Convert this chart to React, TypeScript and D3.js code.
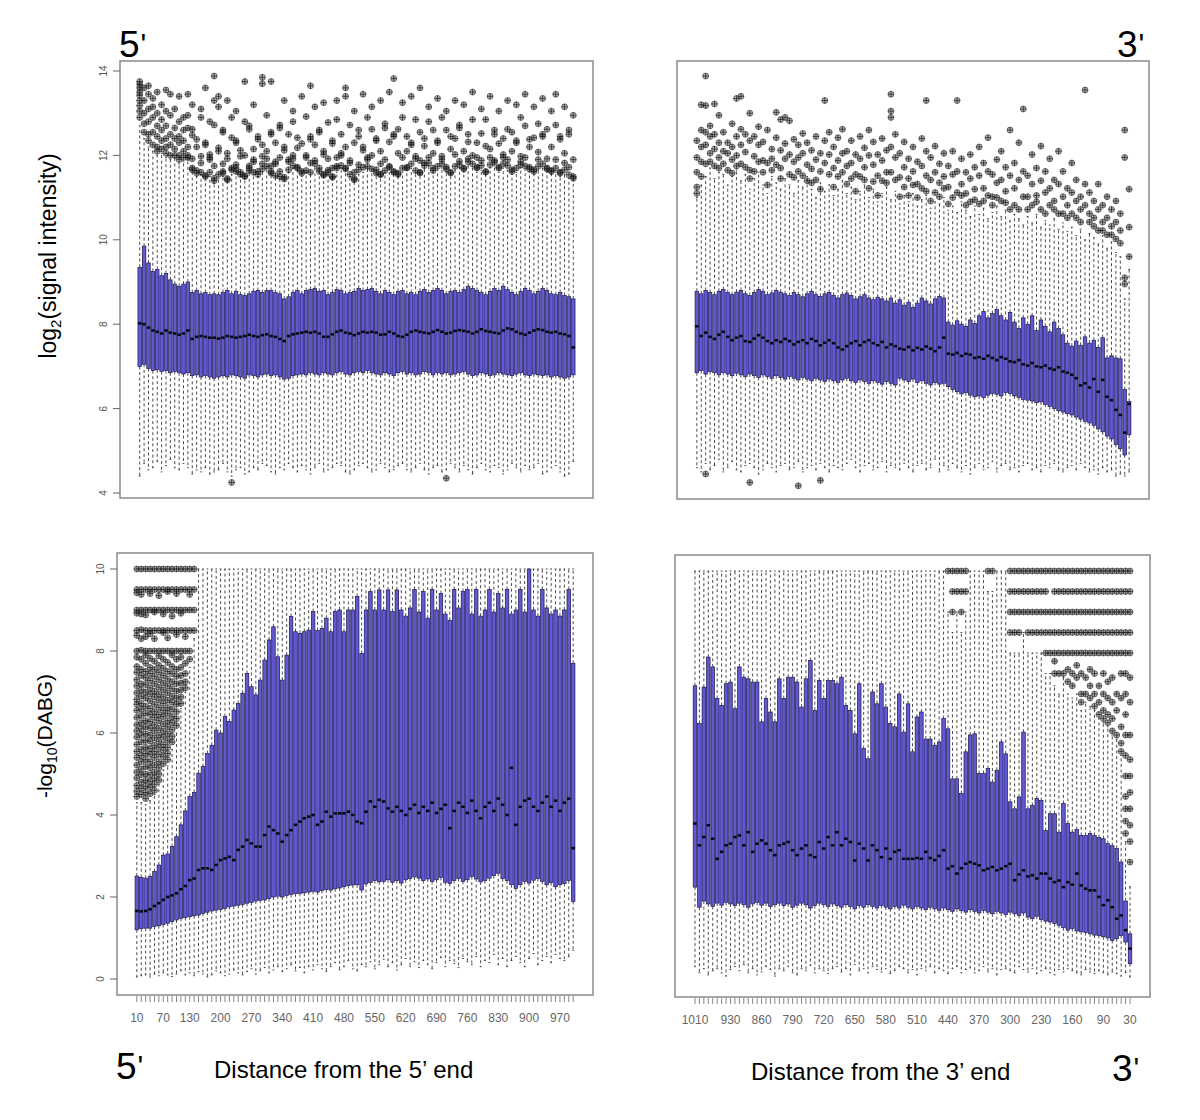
import React from "react";
import * as d3 from "d3";

const FONT = "'Liberation Sans', Arial, Helvetica, sans-serif";
const BOX_FILL = "#6259d2";
const BOX_STROKE = "#1b184a";

// ---------- categories & tick labels ----------
const fivePrimeCats = [
  10, 20, 30, 40, 50, 60, 70, 80, 90, 100, 110, 120, 130, 140, 150, 160, 170, 180, 190, 200,
  210, 220, 230, 240, 250, 260, 270, 280, 290, 300, 310, 320, 330, 340, 350, 360, 370, 380, 390, 400,
  410, 420, 430, 440, 450, 460, 470, 480, 490, 500, 510, 520, 530, 540, 550, 560, 570, 580, 590, 600,
  610, 620, 630, 640, 650, 660, 670, 680, 690, 700, 710, 720, 730, 740, 750, 760, 770, 780, 790, 800,
  810, 820, 830, 840, 850, 860, 870, 880, 890, 900, 910, 920, 930, 940, 950, 960, 970, 980, 990, 1000,
];
const threePrimeCats = [
  1010, 1000, 990, 980, 970, 960, 950, 940, 930, 920, 910, 900, 890, 880, 870, 860, 850, 840, 830, 820,
  810, 800, 790, 780, 770, 760, 750, 740, 730, 720, 710, 700, 690, 680, 670, 660, 650, 640, 630, 620,
  610, 600, 590, 580, 570, 560, 550, 540, 530, 520, 510, 500, 490, 480, 470, 460, 450, 440, 430, 420,
  410, 400, 390, 380, 370, 360, 350, 340, 330, 320, 310, 300, 290, 280, 270, 260, 250, 240, 230, 220,
  210, 200, 190, 180, 170, 160, 150, 140, 130, 120, 110, 100, 90, 80, 70, 60, 50, 40, 30,
];
const fivePrimeLabels = [10, 70, 130, 200, 270, 340, 410, 480, 550, 620, 690, 760, 830, 900, 970];
const threePrimeLabels = [1010, 930, 860, 790, 720, 650, 580, 510, 440, 370, 300, 230, 160, 90, 30];
const signalTicks = [4, 6, 8, 10, 12, 14];
const dabgTicks = [0, 2, 4, 6, 8, 10];

// ---------- top-left: log2 signal, 5' end ----------
const tlQ3 = [
  9.35, 9.85, 9.45, 9.25, 9.3, 9.15, 9.2, 9.05, 8.95, 8.9,
  8.95, 9.0, 8.75, 8.8, 8.72, 8.75, 8.7, 8.72, 8.7, 8.75,
  8.8, 8.72, 8.78, 8.7, 8.68, 8.72, 8.78, 8.8, 8.75, 8.8,
  8.8, 8.75, 8.72, 8.6, 8.65, 8.75, 8.8, 8.72, 8.8, 8.82,
  8.85, 8.78, 8.8, 8.7, 8.75, 8.82, 8.8, 8.72, 8.75, 8.78,
  8.85, 8.8, 8.82, 8.85, 8.78, 8.72, 8.8, 8.75, 8.7, 8.78,
  8.8, 8.72, 8.75, 8.7, 8.78, 8.82, 8.75, 8.8, 8.85, 8.8,
  8.72, 8.78, 8.8, 8.75, 8.82, 8.9, 8.85, 8.8, 8.75, 8.7,
  8.78, 8.85, 8.8, 8.9, 8.82, 8.75, 8.7, 8.78, 8.85, 8.8,
  8.72, 8.78, 8.85, 8.8, 8.72, 8.7, 8.75, 8.68, 8.65, 8.6,
];
const tlMed = [
  8.02, 8.0, 7.92, 7.85, 7.82, 7.78, 7.85, 7.8, 7.78, 7.75,
  7.78, 7.85, 7.65, 7.7, 7.72, 7.7, 7.68, 7.68, 7.66, 7.68,
  7.72, 7.7, 7.68, 7.7, 7.72, 7.75, 7.72, 7.7, 7.74, 7.76,
  7.72, 7.7, 7.65, 7.6, 7.72, 7.76, 7.78, 7.8, 7.82, 7.8,
  7.82, 7.78, 7.7, 7.7, 7.76, 7.82, 7.85, 7.8, 7.78, 7.74,
  7.78, 7.82, 7.8, 7.82, 7.8, 7.75, 7.76, 7.82, 7.78, 7.72,
  7.7, 7.75, 7.82, 7.85, 7.82, 7.8, 7.78, 7.82, 7.86, 7.82,
  7.78, 7.8, 7.84, 7.86, 7.84, 7.82, 7.78, 7.82, 7.88, 7.84,
  7.82, 7.8, 7.78, 7.85, 7.9, 7.88, 7.82, 7.78, 7.75, 7.8,
  7.85, 7.88, 7.86, 7.82, 7.8, 7.82, 7.78, 7.76, 7.72, 7.45,
];
const tlQ1 = [
  7.0, 7.05, 6.95, 6.9, 6.92, 6.88, 6.9, 6.85, 6.88, 6.85,
  6.82, 6.85, 6.78, 6.8, 6.75, 6.78, 6.75, 6.72, 6.75, 6.78,
  6.75, 6.8, 6.78, 6.75, 6.72, 6.8, 6.78, 6.75, 6.8, 6.82,
  6.78, 6.8, 6.75, 6.7, 6.72, 6.78, 6.8, 6.82, 6.8, 6.85,
  6.82, 6.8, 6.85, 6.82, 6.8, 6.85, 6.88, 6.82, 6.8, 6.85,
  6.88, 6.85, 6.9, 6.85, 6.82, 6.8, 6.85, 6.82, 6.78, 6.85,
  6.88, 6.82, 6.85, 6.8, 6.82, 6.88, 6.85, 6.8, 6.85, 6.82,
  6.85, 6.8, 6.82, 6.85, 6.88, 6.82, 6.78, 6.8, 6.85, 6.82,
  6.78, 6.8, 6.85, 6.82, 6.8, 6.78, 6.82, 6.85, 6.8, 6.78,
  6.82, 6.8, 6.78, 6.8, 6.75, 6.78, 6.75, 6.72, 6.75, 6.8,
];
const tlHi = [
  12.7, 12.4, 12.2, 12.1, 12.0, 12.05, 11.95, 11.9, 11.95, 11.8,
  11.85, 11.9, 11.6, 11.5, 11.55, 11.4, 11.5, 11.35, 11.45, 11.5,
  11.4, 11.55, 11.6, 11.5, 11.45, 11.6, 11.55, 11.5, 11.6, 11.7,
  11.55, 11.5, 11.45, 11.4, 11.6, 11.7, 11.65, 11.5, 11.6, 11.55,
  11.7, 11.6, 11.5, 11.55, 11.45, 11.6, 11.7, 11.65, 11.5, 11.4,
  11.55, 11.6, 11.7, 11.65, 11.55, 11.5, 11.6, 11.7, 11.55, 11.5,
  11.6, 11.65, 11.7, 11.6, 11.55, 11.7, 11.75, 11.6, 11.65, 11.7,
  11.6, 11.55, 11.65, 11.7, 11.6, 11.75, 11.7, 11.6, 11.65, 11.55,
  11.7, 11.75, 11.6, 11.7, 11.65, 11.55, 11.6, 11.7, 11.65, 11.6,
  11.55, 11.65, 11.7, 11.6, 11.55, 11.6, 11.5, 11.55, 11.45, 11.4,
];
const tlLo = [
  4.4, 4.7, 4.55, 4.6, 4.75, 4.5, 4.65, 4.8, 4.6, 4.55,
  4.7, 4.6, 4.45, 4.55, 4.5, 4.6, 4.45, 4.5, 4.55, 4.7,
  4.5, 4.4, 4.55, 4.6, 4.45, 4.5, 4.6, 4.55, 4.7, 4.65,
  4.5, 4.45, 4.6, 4.55, 4.7, 4.6, 4.5, 4.65, 4.55, 4.45,
  4.6, 4.7, 4.5, 4.55, 4.6, 4.7, 4.65, 4.5, 4.45, 4.55,
  4.65, 4.7, 4.6, 4.5, 4.55, 4.7, 4.6, 4.5, 4.55, 4.65,
  4.7, 4.55, 4.5, 4.6, 4.7, 4.55, 4.45, 4.6, 4.65, 4.5,
  4.55, 4.7, 4.6, 4.5, 4.65, 4.55, 4.45, 4.6, 4.7, 4.55,
  4.5, 4.65, 4.6, 4.45, 4.55, 4.7, 4.6, 4.5, 4.65, 4.55,
  4.6, 4.7, 4.45, 4.5, 4.6, 4.65, 4.5, 4.4, 4.45, 4.75,
];
const tlOut = [
  [13.75, 13.68, 13.6, 13.5, 13.42, 13.3, 13.18, 13.05, 12.9], [13.6, 13.3, 13.0, 12.75, 12.55],
  [13.65, 13.45, 13.1, 12.8, 12.5, 12.35], [13.35, 13.15, 12.9, 12.55, 12.25],
  [13.5, 13.0, 12.7, 12.45, 12.2, 12.1], [13.2, 12.85, 12.6, 12.35, 12.15],
  [13.55, 13.05, 12.7, 12.4, 12.2, 12.05], [13.45, 12.95, 12.5, 12.25, 12.0],
  [13.1, 12.65, 12.4, 12.15, 12.0], [13.4, 12.8, 12.45, 12.3, 12.0, 11.9],
  [12.9, 12.6, 12.35, 12.1, 11.95], [13.45, 12.95, 12.65, 12.2, 12.0, 11.95],
  [13.2, 12.62, 12.48, 11.92, 11.7, 11.66], [12.38, 12.2, 11.64, 11.58],
  [13.1, 12.9, 11.98, 11.82, 11.6], [13.6, 12.3, 12.25, 11.52, 11.5],
  [12.8, 12.02, 11.95, 11.9, 11.6], [13.88, 13.3, 12.72, 11.75, 11.46, 11.4],
  [13.4, 13.15, 12.18, 12.1, 11.55], [12.6, 12.55, 11.8, 11.62, 11.58],
  [13.3, 12.05, 11.92, 11.45, 11.42], [12.9, 12.42, 11.7, 11.66, 4.25],
  [13.05, 12.35, 12.3, 11.78, 11.7, 11.62], [12.12, 11.98, 11.6, 11.55],
  [13.75, 12.8, 12.0, 11.52, 11.5], [12.7, 12.62, 11.75, 11.7, 11.64],
  [13.2, 12.15, 11.9, 11.85, 11.6], [12.45, 12.38, 11.62, 11.55],
  [13.85, 13.7, 12.25, 11.98, 11.8, 11.68], [12.95, 12.1, 11.92, 11.74],
  [13.75, 12.55, 12.5, 11.75, 11.62, 11.58], [12.3, 11.85, 11.8, 11.52],
  [12.72, 12.65, 11.95, 11.62, 11.5], [13.3, 12.2, 12.12, 11.48, 11.44],
  [12.5, 11.9, 11.85, 11.66], [13.05, 12.8, 12.0, 11.92, 11.76],
  [12.42, 12.18, 11.72, 11.7], [13.4, 12.28, 11.62, 11.58],
  [12.92, 12.0, 11.95, 11.64], [13.65, 12.45, 12.38, 11.82, 11.6],
  [13.15, 12.25, 11.88, 11.8], [12.6, 12.55, 11.7, 11.62],
  [13.25, 12.1, 12.02, 11.55, 11.53], [12.78, 11.92, 11.65, 11.6],
  [12.35, 12.28, 11.7, 11.5, 11.48], [13.3, 12.85, 11.95, 11.74, 11.7],
  [12.5, 12.05, 12.0, 11.76], [13.6, 13.4, 12.2, 11.7, 11.68],
  [12.72, 11.88, 11.82, 11.55], [13.05, 12.3, 11.6, 11.45, 11.42],
  [12.6, 12.45, 11.78, 11.66], [13.45, 12.2, 12.12, 11.72],
  [12.9, 11.95, 11.9, 11.74], [13.15, 12.62, 12.0, 11.68],
  [12.4, 12.35, 11.66, 11.58], [13.3, 12.1, 11.8, 11.56, 11.54],
  [12.75, 12.65, 11.9, 11.64], [13.5, 12.32, 11.74, 11.72],
  [13.82, 12.5, 12.45, 11.62, 11.6], [12.62, 12.05, 11.58, 11.55],
  [13.25, 12.9, 11.95, 11.7], [12.45, 12.1, 11.72, 11.7],
  [13.4, 12.3, 12.25, 11.8], [12.85, 11.98, 11.92, 11.64],
  [13.6, 12.55, 11.88, 11.6, 11.58], [12.4, 12.22, 11.82, 11.76],
  [13.15, 12.8, 11.95, 11.82], [12.6, 12.05, 11.7, 11.64],
  [13.35, 12.35, 12.3, 11.74], [12.9, 11.98, 11.9, 11.8],
  [13.05, 12.6, 11.72, 11.68, 4.35], [12.45, 12.15, 11.6, 11.58],
  [13.3, 12.4, 12.02, 11.74], [12.72, 12.65, 11.86, 11.78],
  [13.2, 12.1, 11.7, 11.68], [12.5, 12.32, 11.92, 11.85],
  [13.5, 12.85, 12.0, 11.8], [12.3, 11.95, 11.72, 11.7],
  [13.1, 12.52, 11.88, 11.76], [12.85, 12.22, 11.62, 11.6],
  [13.4, 12.15, 11.95, 11.78], [12.6, 12.5, 11.88, 11.84],
  [13.05, 12.28, 11.72, 11.7], [12.4, 12.02, 11.95, 11.8],
  [13.3, 12.62, 11.9, 11.76], [12.55, 12.1, 11.66, 11.62],
  [13.2, 12.35, 12.3, 11.7], [12.9, 11.98, 11.85, 11.78],
  [13.45, 12.7, 11.95, 11.75], [12.38, 12.2, 11.72, 11.68],
  [13.15, 12.42, 11.66, 11.62], [12.75, 12.08, 11.9, 11.74],
  [13.35, 12.5, 12.45, 11.8], [12.62, 11.92, 11.7, 11.68],
  [13.05, 12.2, 11.64, 11.62], [13.45, 12.72, 11.9, 11.7],
  [12.45, 12.38, 11.6, 11.58], [13.15, 12.05, 11.82, 11.66],
  [12.6, 12.5, 11.72, 11.54], [12.95, 11.9, 11.5, 11.46],
];

// ---------- top-right: log2 signal, 3' end ----------
const trQ3 = [
  8.78, 8.72, 8.8, 8.75, 8.7, 8.78, 8.82, 8.75, 8.7, 8.76,
  8.8, 8.72, 8.68, 8.75, 8.82, 8.78, 8.7, 8.74, 8.8, 8.76,
  8.72, 8.68, 8.75, 8.7, 8.65, 8.72, 8.78, 8.7, 8.66, 8.72,
  8.75, 8.68, 8.62, 8.7, 8.74, 8.68, 8.6, 8.65, 8.7, 8.62,
  8.58, 8.64, 8.6, 8.55, 8.62, 8.5, 8.58, 8.45, 8.52, 8.4,
  8.5, 8.62, 8.55, 8.48, 8.6, 8.66, 8.62, 8.05, 7.98, 8.08,
  8.0, 7.95, 8.1, 8.02, 8.2, 8.3, 8.15, 8.25, 8.35, 8.2,
  8.1, 8.28, 8.05, 7.9, 8.15, 8.0, 8.2, 7.85, 8.1, 7.95,
  7.82, 8.05, 7.9, 7.75, 7.55, 7.48, 7.6, 7.5, 7.7, 7.55,
  7.62, 7.45, 7.68, 7.2, 7.25, 7.2, 7.18, 6.45, 6.17,
];
const trMed = [
  7.95, 7.72, 7.8, 7.7, 7.65, 7.75, 7.82, 7.7, 7.62, 7.68,
  7.72, 7.6, 7.58, 7.66, 7.74, 7.68, 7.6, 7.55, 7.62, 7.58,
  7.65, 7.6, 7.52, 7.58, 7.62, 7.55, 7.65, 7.6, 7.5, 7.56,
  7.62, 7.55, 7.45, 7.4, 7.48, 7.55, 7.6, 7.5, 7.58, 7.62,
  7.55, 7.5, 7.58, 7.45, 7.52, 7.48, 7.42, 7.4, 7.46, 7.38,
  7.44, 7.4, 7.47, 7.42, 7.36, 7.45, 7.68, 7.3, 7.28, 7.32,
  7.25, 7.3, 7.28, 7.2, 7.22, 7.18, 7.25, 7.2, 7.15, 7.22,
  7.18, 7.12, 7.1, 7.15, 7.05, 7.02, 7.08, 7.0, 6.98, 7.02,
  6.95, 6.92, 6.98, 6.88, 6.85, 6.8, 6.72, 6.55, 6.6, 6.5,
  6.7, 6.4, 6.68, 6.28, 6.2, 5.97, 5.85, 5.43, 6.11,
];
const trQ1 = [
  6.85, 6.9, 6.82, 6.88, 6.85, 6.8, 6.86, 6.82, 6.78, 6.84,
  6.8, 6.76, 6.82, 6.78, 6.74, 6.8, 6.76, 6.72, 6.78, 6.74,
  6.7, 6.76, 6.72, 6.68, 6.74, 6.7, 6.66, 6.72, 6.68, 6.64,
  6.7, 6.66, 6.62, 6.68, 6.72, 6.66, 6.62, 6.68, 6.64, 6.6,
  6.66, 6.62, 6.58, 6.64, 6.6, 6.56, 6.72, 6.68, 6.64, 6.7,
  6.62, 6.66, 6.6, 6.56, 6.62, 6.58, 6.6, 6.52, 6.45, 6.4,
  6.35, 6.38, 6.32, 6.28, 6.3, 6.26, 6.32, 6.36, 6.34, 6.3,
  6.38, 6.36, 6.3, 6.26, 6.22, 6.2, 6.18, 6.14, 6.16, 6.1,
  6.05, 6.0, 5.95, 5.92, 5.88, 5.85, 5.8, 5.75, 5.7, 5.66,
  5.6, 5.52, 5.45, 5.35, 5.28, 5.15, 5.05, 4.9, 5.38,
];
const trHi = [
  11.0, 11.3, 11.5, 11.7, 11.45, 11.6, 11.55, 11.3, 11.5, 11.65,
  11.4, 11.55, 11.2, 11.45, 11.6, 11.3, 11.1, 11.5, 11.35, 11.2,
  11.45, 11.3, 11.1, 11.4, 11.25, 11.5, 11.2, 11.0, 11.35, 11.15,
  11.3, 11.05, 11.2, 11.4, 11.1, 11.25, 10.95, 11.15, 11.3, 11.0,
  11.2, 10.9, 11.1, 11.25, 10.95, 11.15, 10.85, 11.05, 10.9, 11.1,
  10.8, 10.95, 11.05, 10.75, 10.9, 10.85, 11.0, 10.7, 10.8, 10.65,
  10.9, 10.7, 10.55, 10.8, 10.6, 10.75, 10.5, 10.65, 10.8, 10.55,
  10.7, 10.45, 10.6, 10.5, 10.35, 10.55, 10.4, 10.6, 10.3, 10.45,
  10.35, 10.5, 10.25, 10.4, 10.2, 10.3, 10.1, 10.25, 10.0, 10.15,
  10.05, 9.9, 10.1, 9.8, 9.95, 9.7, 9.6, 8.6, 9.3,
];
const trLo = [
  4.6, 4.5, 4.7, 4.55, 4.65, 4.8, 4.5, 4.6, 4.75, 4.55,
  4.5, 4.65, 4.7, 4.6, 4.45, 4.55, 4.7, 4.6, 4.5, 4.65,
  4.7, 4.55, 4.6, 4.75, 4.5, 4.6, 4.65, 4.55, 4.7, 4.6,
  4.5, 4.65, 4.6, 4.55, 4.7, 4.8, 4.6, 4.5, 4.65, 4.7,
  4.55, 4.6, 4.75, 4.5, 4.65, 4.6, 4.55, 4.7, 4.6, 4.5,
  4.65, 4.7, 4.55, 4.6, 4.8, 4.5, 4.65, 4.55, 4.7, 4.6,
  4.5, 4.65, 4.45, 4.6, 4.7, 4.55, 4.6, 4.75, 4.5, 4.65,
  4.7, 4.55, 4.6, 4.5, 4.65, 4.7, 4.55, 4.6, 4.5, 4.65,
  4.6, 4.7, 4.55, 4.5, 4.6, 4.65, 4.55, 4.7, 4.6, 4.5,
  4.55, 4.45, 4.6, 4.5, 4.55, 4.4, 4.45, 4.4, 4.5,
];
const trOut = [
  [12.35, 11.95, 11.6, 11.25, 11.1], [13.2, 12.6, 12.2, 11.85, 11.5], [13.88, 13.18, 12.55, 12.25, 11.8, 4.45],
  [12.7, 12.45, 12.05, 11.85], [13.22, 12.5, 12.15, 11.75], [12.95, 12.3, 11.95, 11.7], [12.55, 12.1, 11.8],
  [12.3, 12.05, 11.65], [12.75, 12.2, 11.9, 11.58], [13.35, 12.45, 12.0, 11.75], [13.4, 12.62, 12.25, 11.8],
  [12.5, 12.08, 11.72], [13.0, 12.35, 11.65, 11.45, 4.25], [12.45, 11.98, 11.62], [12.68, 12.25, 11.85],
  [12.32, 11.88, 11.6], [12.6, 11.82, 11.3], [12.15, 11.92, 11.65], [13.02, 12.42, 11.78],
  [12.85, 12.12, 11.7, 11.45], [12.9, 12.28, 11.92], [12.82, 12.02, 11.55], [12.38, 11.85, 11.48],
  [12.25, 11.95, 11.62, 4.17], [12.52, 12.05, 11.52], [12.3, 11.78, 11.4], [12.12, 11.68, 11.35],
  [12.45, 11.9, 11.42], [12.05, 11.62, 11.2, 4.3], [13.3, 12.35, 11.82], [12.55, 12.02, 11.55],
  [12.2, 11.7, 11.25], [12.42, 11.88, 11.5], [12.62, 12.05, 11.6], [12.1, 11.75, 11.32],
  [12.35, 11.82, 11.45], [12.02, 11.55, 11.15], [12.45, 11.92, 11.5], [12.18, 11.72, 11.42],
  [12.6, 12.0, 11.22], [12.32, 11.78, 11.38], [12.02, 11.52, 11.05], [12.4, 11.88, 11.4],
  [12.12, 11.6, 11.35], [13.45, 13.05, 12.9, 12.2, 11.6], [12.5, 11.95, 11.42], [12.05, 11.48, 11.02],
  [12.32, 11.72, 11.25], [11.92, 11.45, 11.05], [12.2, 11.62, 11.3], [11.85, 11.32, 11.0],
  [12.4, 11.75, 11.22], [13.3, 12.1, 11.52, 11.15], [11.95, 11.42, 10.92], [12.22, 11.6, 11.12],
  [11.8, 11.35, 11.02], [12.05, 11.5, 11.22], [11.75, 11.25, 10.85], [12.1, 11.55, 11.0],
  [13.3, 11.62, 11.12], [11.92, 11.32, 11.05], [11.6, 11.1, 10.82], [12.02, 11.45, 10.9],
  [11.72, 11.2, 10.95], [12.2, 11.52, 10.85], [11.82, 11.22, 10.92], [12.42, 11.62, 11.05],
  [11.55, 11.02, 10.82], [11.9, 11.35, 11.0], [12.1, 11.42, 10.92], [11.72, 11.15, 10.88],
  [12.6, 11.52, 10.72], [11.82, 11.22, 10.82], [12.3, 11.42, 10.72], [13.1, 11.62, 11.02],
  [11.52, 11.02, 10.72], [12.02, 11.32, 10.82], [11.7, 11.05, 10.9], [12.22, 11.4, 10.72],
  [11.62, 11.12, 10.62], [11.92, 11.22, 10.82], [11.42, 10.92, 10.72], [12.1, 11.32, 10.62],
  [11.62, 11.02, 10.62], [11.22, 10.82, 10.52], [11.82, 11.12, 10.62], [11.42, 10.92, 10.52],
  [11.02, 10.72, 10.42], [13.55, 11.32, 10.82], [11.12, 10.62, 10.42], [10.92, 10.52, 10.32],
  [11.32, 10.72, 10.22], [10.82, 10.42, 10.22], [11.02, 10.52, 10.12], [10.72, 10.32, 10.12],
  [10.92, 10.42, 10.02], [10.62, 10.22, 9.92], [12.6, 11.95, 9.1, 8.95], [11.2, 10.3, 9.6],
];

// ---------- bottom-left: -log10(DABG), 5' end ----------
const blQ3 = [
  2.51, 2.48, 2.46, 2.5, 2.62, 2.78, 3.02, 3.05, 3.23, 3.47,
  3.76, 4.1, 4.45, 4.55, 5.02, 5.18, 5.5, 5.7, 6.07, 6.0,
  6.4, 6.28, 6.56, 6.72, 6.97, 7.45, 7.13, 6.93, 7.29, 7.78,
  8.27, 8.59, 7.86, 7.29, 7.9, 8.84, 8.47, 8.43, 8.47, 8.51,
  8.96, 8.5, 8.55, 8.8, 8.47, 8.96, 9.0, 8.47, 9.0, 9.0,
  9.33, 7.94, 9.0, 9.45, 9.0, 9.49, 9.0, 9.49, 8.96, 9.49,
  9.0, 8.85, 9.05, 9.5, 8.95, 9.45, 8.8, 9.5, 9.0, 9.4,
  8.9, 8.75, 9.5, 9.05, 9.45, 9.5, 8.9, 9.5, 8.85, 9.0,
  9.5, 8.95, 9.4, 9.05, 9.5, 8.9, 9.0, 9.5, 8.95, 10.0,
  9.0, 8.85, 9.5, 9.05, 8.9, 9.0, 8.85, 9.0, 9.5, 7.7,
];
const blMed = [
  1.66, 1.65, 1.66, 1.7, 1.78, 1.85, 1.93, 2.0, 2.04, 2.09,
  2.19, 2.27, 2.41, 2.45, 2.66, 2.7, 2.7, 2.66, 2.78, 2.9,
  2.94, 2.98, 2.9, 3.15, 3.23, 3.39, 3.31, 3.23, 3.23, 3.51,
  3.72, 3.63, 3.55, 3.35, 3.51, 3.63, 3.76, 3.84, 3.92, 3.96,
  4.0, 3.76, 3.84, 4.08, 3.96, 4.04, 4.04, 4.04, 4.08, 4.0,
  3.84, 3.8, 4.08, 4.33, 4.2, 4.37, 4.33, 4.16, 4.08, 4.2,
  4.1, 4.0, 4.15, 4.25, 4.05, 4.2, 4.1, 4.3, 4.05, 4.15,
  4.25, 3.68, 4.1, 4.3, 4.2, 4.05, 4.35, 4.1, 3.92, 4.2,
  4.3, 4.1, 4.4, 4.25, 4.0, 5.15, 3.76, 4.2, 4.35, 4.4,
  4.2, 4.1, 4.3, 4.45, 4.2, 4.35, 4.1, 4.3, 4.4, 3.19,
];
const blQ1 = [
  1.2, 1.23, 1.24, 1.24, 1.28, 1.3, 1.33, 1.36, 1.4, 1.44,
  1.48, 1.5, 1.52, 1.54, 1.56, 1.6, 1.63, 1.66, 1.68, 1.7,
  1.72, 1.76, 1.78, 1.8, 1.82, 1.85, 1.87, 1.9, 1.92, 1.93,
  1.96, 2.0, 2.02, 2.0, 2.04, 2.06, 2.08, 2.09, 2.1, 2.12,
  2.14, 2.12, 2.16, 2.18, 2.17, 2.2, 2.22, 2.25, 2.28, 2.29,
  2.3, 2.17, 2.32, 2.35, 2.4, 2.37, 2.38, 2.42, 2.36, 2.4,
  2.34, 2.42, 2.45, 2.49, 2.46, 2.4, 2.44, 2.38, 2.42, 2.48,
  2.36, 2.33, 2.4, 2.45, 2.38, 2.42, 2.5, 2.44, 2.37, 2.4,
  2.46, 2.52, 2.58, 2.45, 2.4, 2.3, 2.21, 2.3, 2.38, 2.34,
  2.41, 2.45, 2.38, 2.3, 2.35, 2.25, 2.3, 2.33, 2.4, 1.89,
];
const blHi = [
  4.3, 4.3, 4.25, 4.35, 4.5, 4.75, 5.1, 5.2, 5.6, 6.0,
  6.6, 7.0, 7.6, 8.3, 10, 10, 10, 10, 10, 10,
  10, 10, 10, 10, 10, 10, 10, 10, 10, 10,
  10, 10, 10, 10, 10, 10, 10, 10, 10, 10,
  10, 10, 10, 10, 10, 10, 10, 10, 10, 10,
  10, 10, 10, 10, 10, 10, 10, 10, 10, 10,
  10, 10, 10, 10, 10, 10, 10, 10, 10, 10,
  10, 10, 10, 10, 10, 10, 10, 10, 10, 10,
  10, 10, 10, 10, 10, 10, 10, 10, 10, 10,
  10, 10, 10, 10, 10, 10, 10, 10, 10, 10,
];
const blLo = [
  0.05, 0.08, 0.1, 0.05, 0.12, 0.08, 0.15, 0.1, 0.06, 0.12,
  0.2, 0.1, 0.15, 0.08, 0.18, 0.12, 0.05, 0.1, 0.2, 0.15,
  0.08, 0.12, 0.22, 0.15, 0.1, 0.18, 0.25, 0.12, 0.2, 0.28,
  0.15, 0.22, 0.3, 0.18, 0.25, 0.35, 0.2, 0.28, 0.15, 0.3,
  0.22, 0.35, 0.25, 0.18, 0.3, 0.4, 0.22, 0.3, 0.45, 0.25,
  0.2, 0.35, 0.3, 0.42, 0.25, 0.35, 0.48, 0.3, 0.4, 0.22,
  0.35, 0.5, 0.3, 0.42, 0.28, 0.45, 0.35, 0.25, 0.4, 0.52,
  0.3, 0.45, 0.38, 0.28, 0.5, 0.42, 0.35, 0.55, 0.3, 0.45,
  0.4, 0.6, 0.35, 0.5, 0.3, 0.45, 0.55, 0.4, 0.3, 0.5,
  0.62, 0.35, 0.45, 0.55, 0.4, 0.6, 0.5, 0.45, 0.55, 0.7,
];
// outliers of the first boxes (the rest have none)
const blOutHead = [
  [10, 9.5, 9.42, 9.0, 8.92, 8.5, 8.38, 8.0, 7.85, 7.62, 7.48, 7.3, 7.15, 6.98, 6.82, 6.7, 6.55, 6.38, 6.2, 6.05, 5.9, 5.72, 5.55, 5.4, 5.22, 5.05, 4.9, 4.72, 4.58, 4.45],
  [10, 9.5, 9.38, 9.0, 8.9, 8.52, 8.3, 8.02, 7.8, 7.55, 7.4, 7.2, 7.05, 6.9, 6.72, 6.58, 6.42, 6.25, 6.1, 5.95, 5.78, 5.6, 5.45, 5.3, 5.12, 4.98, 4.8, 4.65, 4.5],
  [10, 9.5, 9.0, 8.88, 8.5, 8.35, 8.0, 7.9, 7.7, 7.5, 7.35, 7.18, 7.0, 6.85, 6.65, 6.48, 6.3, 6.15, 5.98, 5.82, 5.65, 5.5, 5.35, 5.18, 5.0, 4.85, 4.7, 4.55, 4.4],
  [10, 9.5, 9.4, 9.0, 8.5, 8.42, 8.0, 7.82, 7.6, 7.45, 7.28, 7.1, 6.95, 6.78, 6.6, 6.45, 6.28, 6.12, 5.95, 5.8, 5.62, 5.48, 5.3, 5.15, 4.98, 4.82, 4.68, 4.52],
  [10, 9.5, 9.0, 8.95, 8.5, 8.3, 8.0, 7.75, 7.55, 7.38, 7.2, 7.02, 6.88, 6.7, 6.52, 6.38, 6.2, 6.05, 5.88, 5.7, 5.55, 5.4, 5.22, 5.05, 4.9, 4.75, 4.6],
  [10, 9.5, 9.35, 9.0, 8.5, 8.0, 7.88, 7.65, 7.48, 7.3, 7.12, 6.95, 6.8, 6.62, 6.45, 6.3, 6.12, 5.95, 5.8, 5.65, 5.48, 5.3, 5.15, 5.0, 4.85],
  [10, 9.5, 9.0, 8.9, 8.5, 8.45, 8.0, 7.8, 7.58, 7.4, 7.22, 7.05, 6.88, 6.72, 6.55, 6.4, 6.22, 6.05, 5.9, 5.72, 5.58, 5.42, 5.25],
  [10, 9.5, 9.45, 9.0, 8.5, 8.32, 8.0, 7.72, 7.5, 7.32, 7.15, 6.98, 6.8, 6.62, 6.48, 6.3, 6.15, 5.98, 5.82, 5.65, 5.5, 5.35],
  [10, 9.5, 9.0, 8.85, 8.5, 8.0, 7.9, 7.62, 7.45, 7.25, 7.08, 6.9, 6.75, 6.58, 6.4, 6.25, 6.08, 5.92, 5.78],
  [10, 9.5, 9.4, 9.0, 8.5, 8.4, 8.0, 7.8, 7.55, 7.38, 7.2, 7.02, 6.85, 6.7, 6.52, 6.35, 6.18],
  [10, 9.5, 9.0, 8.92, 8.5, 8.0, 7.85, 7.6, 7.4, 7.22, 7.05, 6.88, 6.72],
  [10, 9.5, 9.0, 8.5, 8.35, 8.0, 7.7, 7.45, 7.25, 7.1],
  [10, 9.5, 9.38, 9.0, 8.5, 8.0, 7.8],
  [10, 9.5, 9.0, 8.5],
];

// ---------- bottom-right: -log10(DABG), 3' end ----------
const brQ3 = [
  7.2, 6.28, 7.17, 7.9, 7.66, 6.89, 6.72, 7.25, 7.29, 6.64,
  7.66, 7.41, 7.37, 7.29, 7.29, 6.32, 6.89, 6.56, 6.32, 7.37,
  6.89, 7.41, 7.41, 7.29, 6.68, 7.37, 7.82, 6.6, 7.33, 6.89,
  7.33, 7.33, 7.25, 7.41, 6.72, 6.6, 6.03, 7.25, 5.67, 5.42,
  7.05, 6.76, 7.25, 6.68, 6.28, 6.2, 7.0, 6.07, 6.76, 5.59,
  6.44, 6.56, 5.9, 5.9, 5.75, 5.83, 6.4, 6.15, 4.93, 4.93,
  4.57, 5.59, 6.0, 6.03, 5.06, 5.06, 5.18, 4.85, 5.14, 5.83,
  5.54, 4.37, 4.2, 4.49, 6.07, 4.2, 4.28, 4.45, 4.4, 3.67,
  4.08, 4.08, 3.63, 4.33, 3.84, 3.63, 3.7, 3.55, 3.55, 3.6,
  3.55, 3.5, 3.47, 3.35, 3.3, 3.23, 2.9, 1.95, 1.15,
];
const brMed = [
  3.84, 3.31, 3.51, 3.8, 3.47, 2.98, 3.15, 3.31, 3.35, 3.51,
  3.55, 3.31, 3.63, 3.15, 3.35, 3.43, 3.35, 3.19, 3.07, 3.31,
  3.35, 3.39, 3.19, 3.07, 3.23, 3.31, 3.07, 3.02, 3.39, 3.23,
  3.51, 3.31, 3.63, 3.31, 3.47, 3.39, 2.94, 3.35, 3.23, 2.94,
  3.31, 3.19, 3.02, 3.23, 2.98, 3.15, 3.19, 2.98, 2.98, 2.98,
  3.0, 2.98, 3.15, 3.0, 2.95, 3.05, 3.19, 2.74, 2.8, 2.62,
  2.75, 2.86, 2.9, 2.86, 2.82, 2.7, 2.74, 2.78, 2.7, 2.74,
  2.8, 2.86, 2.46, 2.6, 2.7, 2.55, 2.58, 2.5, 2.62, 2.62,
  2.5, 2.41, 2.45, 2.29, 2.41, 2.35, 2.62, 2.33, 2.25, 2.21,
  2.21, 2.05, 1.85, 1.97, 1.8, 1.52, 1.6, 1.24, 0.79,
];
const brQ1 = [
  2.29, 1.8, 1.95, 1.88, 1.82, 1.9, 1.85, 1.92, 1.88, 1.84,
  1.9, 1.86, 1.8, 1.88, 1.92, 1.85, 1.9, 1.82, 1.86, 1.9,
  1.84, 1.88, 1.8, 1.85, 1.9, 1.86, 1.78, 1.84, 1.9, 1.86,
  1.82, 1.88, 1.84, 1.8, 1.86, 1.82, 1.76, 1.84, 1.8, 1.86,
  1.82, 1.78, 1.84, 1.8, 1.76, 1.82, 1.78, 1.85, 1.8, 1.76,
  1.82, 1.78, 1.74, 1.8, 1.76, 1.72, 1.78, 1.74, 1.7, 1.76,
  1.72, 1.68, 1.74, 1.7, 1.66, 1.72, 1.68, 1.64, 1.7, 1.66,
  1.62, 1.68, 1.64, 1.6, 1.66, 1.56, 1.52, 1.58, 1.5, 1.46,
  1.44, 1.4, 1.36, 1.3, 1.24, 1.28, 1.22, 1.2, 1.18, 1.15,
  1.12, 1.11, 1.08, 1.05, 0.99, 1.03, 1.11, 0.95, 0.42,
];
const brHi = [
  10, 10, 10, 10, 10, 10, 10, 10, 10, 10,
  10, 10, 10, 10, 10, 10, 10, 10, 10, 10,
  10, 10, 10, 10, 10, 10, 10, 10, 10, 10,
  10, 10, 10, 10, 10, 10, 10, 10, 10, 10,
  10, 10, 10, 10, 10, 10, 10, 10, 10, 10,
  10, 10, 10, 10, 10, 10, 10, 9.0, 8.5, 9.0,
  8.5, 9.0, 10, 10, 10, 10, 9.5, 9.5, 10, 10,
  10, 8.0, 8.0, 8.0, 8.5, 8.0, 8.0, 8.0, 8.0, 7.5,
  7.5, 7.2, 7.0, 7.4, 7.0, 6.9, 7.0, 6.6, 6.8, 6.7,
  6.6, 6.4, 6.3, 6.2, 6.0, 5.9, 5.5, 3.4, 2.3,
];
const brLo = [
  0.35, 0.2, 0.3, 0.15, 0.25, 0.3, 0.2, 0.12, 0.28, 0.35,
  0.25, 0.4, 0.2, 0.3, 0.15, 0.22, 0.35, 0.28, 0.12, 0.3,
  0.25, 0.35, 0.2, 0.15, 0.3, 0.25, 0.38, 0.2, 0.3, 0.25,
  0.18, 0.3, 0.35, 0.22, 0.3, 0.15, 0.4, 0.25, 0.3, 0.2,
  0.35, 0.28, 0.22, 0.3, 0.18, 0.25, 0.35, 0.3, 0.2, 0.28,
  0.15, 0.3, 0.25, 0.35, 0.2, 0.3, 0.25, 0.18, 0.3, 0.35,
  0.2, 0.28, 0.32, 0.2, 0.25, 0.35, 0.22, 0.3, 0.15, 0.28,
  0.3, 0.25, 0.2, 0.35, 0.28, 0.22, 0.3, 0.18, 0.25, 0.3,
  0.2, 0.15, 0.28, 0.22, 0.3, 0.25, 0.2, 0.15, 0.28, 0.22,
  0.18, 0.25, 0.2, 0.15, 0.22, 0.18, 0.12, 0.2, 0.1,
];
// outliers of the boxes from index 57 on (earlier boxes have none)
const brOutTail = [
  [10], [10, 9.5, 9.0], [10, 9.5], [10, 9.5, 9.0], [10, 9.5],
  [], [], [], [], [10], [10], [], [], [],
  [10, 9.5, 9.0, 8.5], [10, 9.5, 9.0, 8.5], [10, 9.5, 9.0, 8.5], [10, 9.5, 9.0],
  [10, 9.5, 9.0, 8.5], [10, 9.5, 9.0, 8.5], [10, 9.5, 9.0, 8.5], [10, 9.5, 9.0, 8.5],
  [10, 9.5, 9.0, 8.5, 8.0], [10, 9.0, 8.5, 8.0],
  [10, 9.5, 9.0, 8.5, 8.0, 7.8, 7.5], [10, 9.5, 9.0, 8.5, 8.0, 7.5], [10, 9.5, 9.0, 8.5, 8.0, 7.5],
  [10, 9.5, 9.0, 8.5, 8.0, 7.6, 7.3], [10, 9.5, 9.0, 8.5, 8.0, 7.5, 7.2], [10, 9.5, 9.0, 8.5, 8.0, 7.7, 7.4],
  [10, 9.5, 9.0, 8.5, 8.0, 7.5, 7.0, 6.8], [10, 9.5, 9.0, 8.5, 8.0, 7.4, 7.0],
  [10, 9.5, 9.0, 8.5, 8.0, 7.6, 7.2, 6.9], [10, 9.5, 9.0, 8.5, 8.0, 7.5, 7.0, 6.7],
  [10, 9.5, 9.0, 8.5, 8.0, 7.2, 6.8, 6.5], [10, 9.5, 9.0, 8.5, 8.0, 7.5, 7.0, 6.6, 6.4],
  [10, 9.5, 9.0, 8.5, 8.0, 7.3, 6.9, 6.5, 6.3], [10, 9.5, 9.0, 8.5, 8.0, 7.4, 6.8, 6.4, 6.1],
  [10, 9.5, 9.0, 8.5, 8.0, 7.0, 6.6, 6.0], [10, 9.5, 9.0, 8.5, 8.0, 7.5, 6.9, 6.2, 5.8, 5.6],
  [10, 9.5, 9.0, 8.5, 8.0, 7.5, 7.0, 6.5, 6.0, 5.5, 5.0, 4.5, 4.2, 3.9, 3.6],
  [10, 9.5, 9.0, 8.5, 8.0, 7.4, 6.8, 6.0, 5.4, 5.0, 4.6, 4.2, 3.8, 3.4, 2.9],
];

// ---------- layout ----------
type Frame = { x0: number; y0: number; x1: number; y1: number };
interface PanelSpec {
  cats: number[];
  q1: number[];
  med: number[];
  q3: number[];
  lo: number[];
  hi: number[];
  out: number[][];
  frame: Frame;
  yDomain: [number, number];
  yRange: [number, number];
  yTicks: number[] | null;
  xLabels: number[] | null;
}

const panels: PanelSpec[] = [
  {
    cats: fivePrimeCats, q1: tlQ1, med: tlMed, q3: tlQ3, lo: tlLo, hi: tlHi, out: tlOut,
    frame: { x0: 120, y0: 61, x1: 593, y1: 498 },
    yDomain: [4, 14], yRange: [493, 71], yTicks: signalTicks, xLabels: null,
  },
  {
    cats: threePrimeCats, q1: trQ1, med: trMed, q3: trQ3, lo: trLo, hi: trHi, out: trOut,
    frame: { x0: 677, y0: 61, x1: 1149, y1: 499 },
    yDomain: [4, 14], yRange: [493, 71], yTicks: null, xLabels: null,
  },
  {
    cats: fivePrimeCats, q1: blQ1, med: blMed, q3: blQ3, lo: blLo, hi: blHi,
    out: fivePrimeCats.map((_, i) => blOutHead[i] ?? []),
    frame: { x0: 117, y0: 553, x1: 593, y1: 995 },
    yDomain: [0, 10], yRange: [979, 569], yTicks: dabgTicks, xLabels: fivePrimeLabels,
  },
  {
    cats: threePrimeCats, q1: brQ1, med: brMed, q3: brQ3, lo: brLo, hi: brHi,
    out: threePrimeCats.map((_, i) => (i >= 57 ? brOutTail[i - 57] : [])),
    frame: { x0: 675, y0: 555, x1: 1150, y1: 997 },
    yDomain: [0, 10], yRange: [981, 571], yTicks: null, xLabels: threePrimeLabels,
  },
];

function BoxPanel({ spec }: { spec: PanelSpec }) {
  const { frame: f } = spec;
  const x = d3.scalePoint<number>().domain(spec.cats).range([f.x0, f.x1]).padding(4.5);
  const y = d3.scaleLinear().domain(spec.yDomain).range(spec.yRange);
  const bw = x.step() * 0.8;
  const sw = bw * 0.5;
  const labelSet = new Set(spec.xLabels ?? []);

  return (
    <g>
      {/* whiskers + staples */}
      <g stroke="#1e1e1e" strokeWidth={0.8}>
        {spec.cats.map((c, i) => {
          const cx = x(c) as number;
          return (
            <g key={c}>
              <line x1={cx} x2={cx} y1={y(spec.q3[i])} y2={y(spec.hi[i])} strokeDasharray="3,2.6" />
              <line x1={cx} x2={cx} y1={y(spec.q1[i])} y2={y(spec.lo[i])} strokeDasharray="3,2.6" />
              <line x1={cx - sw / 2} x2={cx + sw / 2} y1={y(spec.hi[i])} y2={y(spec.hi[i])} />
              <line x1={cx - sw / 2} x2={cx + sw / 2} y1={y(spec.lo[i])} y2={y(spec.lo[i])} />
            </g>
          );
        })}
      </g>
      {/* boxes */}
      <g fill={BOX_FILL} stroke={BOX_STROKE} strokeWidth={0.7}>
        {spec.cats.map((c, i) => (
          <rect
            key={c}
            x={(x(c) as number) - bw / 2}
            width={bw}
            y={y(spec.q3[i])}
            height={y(spec.q1[i]) - y(spec.q3[i])}
          />
        ))}
      </g>
      {/* medians */}
      <g stroke="#08081a" strokeWidth={2.6}>
        {spec.cats.map((c, i) => (
          <line
            key={c}
            x1={(x(c) as number) - bw / 2}
            x2={(x(c) as number) + bw / 2}
            y1={y(spec.med[i])}
            y2={y(spec.med[i])}
          />
        ))}
      </g>
      {/* outliers */}
      <g>
        {spec.cats.map((c, i) =>
          spec.out[i].map((v, k) => (
            <g key={`${c}-${k}`} transform={`translate(${x(c)},${y(v)})`}>
              <circle r={3} fill="rgba(60,60,60,0.42)" stroke="rgba(15,15,15,0.6)" strokeWidth={0.8} />
              <path d="M-3,0H3M0,-3V3" stroke="rgba(0,0,0,0.65)" strokeWidth={0.9} />
            </g>
          ))
        )}
      </g>
      {/* frame */}
      <rect x={f.x0} y={f.y0} width={f.x1 - f.x0} height={f.y1 - f.y0} fill="none" stroke="#8a8a8a" strokeWidth={1.5} />
      {/* y axis */}
      {spec.yTicks && (
        <g>
          {spec.yTicks.map((t) => (
            <g key={t}>
              <line x1={f.x0 - 7} x2={f.x0} y1={y(t)} y2={y(t)} stroke="#666" strokeWidth={1} />
              <text
                transform={`translate(${f.x0 - 13},${y(t)}) rotate(-90)`}
                textAnchor="middle"
                fontFamily={FONT}
                fontSize={10}
                fill="#555"
              >
                {t}
              </text>
            </g>
          ))}
        </g>
      )}
      {/* x axis */}
      {spec.xLabels && (
        <g>
          {spec.cats.map((c) => (
            <line key={c} x1={x(c)} x2={x(c)} y1={f.y1 + 1} y2={f.y1 + 7} stroke="#777" strokeWidth={0.9} />
          ))}
          {spec.cats
            .filter((c) => labelSet.has(c))
            .map((c) => (
              <text key={c} x={x(c)} y={f.y1 + 27} textAnchor="middle" fontFamily={FONT} fontSize={12} fill="#666">
                {c}
              </text>
            ))}
        </g>
      )}
    </g>
  );
}

function EndMark({ x, y, label }: { x: number; y: number; label: string }) {
  return (
    <text x={x} y={y} fontFamily={FONT} fontSize={37} fill="#000">
      {label}
      <tspan fontSize={30} dx={1} dy={-3}>'</tspan>
    </text>
  );
}

export default function App() {
  return (
    <div style={{ position: "absolute", left: 0, top: 0 }}>
      <svg width={1200} height={1120} viewBox="0 0 1200 1120" style={{ display: "block", background: "#fff" }}>
        <rect width={1200} height={1120} fill="#fff" />
        {panels.map((p, i) => (
          <BoxPanel key={i} spec={p} />
        ))}
        <EndMark x={119} y={57} label="5" />
        <EndMark x={1117} y={57} label="3" />
        <EndMark x={116} y={1079} label="5" />
        <EndMark x={1112} y={1081} label="3" />
        <text x={214} y={1078} fontFamily={FONT} fontSize={24} fill="#000">
          Distance from the 5’ end
        </text>
        <text x={751} y={1080} fontFamily={FONT} fontSize={24} fill="#000">
          Distance from the 3’ end
        </text>
        <text transform="translate(56,256) rotate(-90)" textAnchor="middle" fontFamily={FONT} fontSize={23} fill="#000">
          log
          <tspan fontSize={15} dy={5}>2</tspan>
          <tspan dy={-5}>(signal intensity)</tspan>
        </text>
        <text transform="translate(52,736) rotate(-90)" textAnchor="middle" fontFamily={FONT} fontSize={21} fill="#000">
          -log
          <tspan fontSize={14} dy={5}>10</tspan>
          <tspan dy={-5}>(DABG)</tspan>
        </text>
      </svg>
    </div>
  );
}
